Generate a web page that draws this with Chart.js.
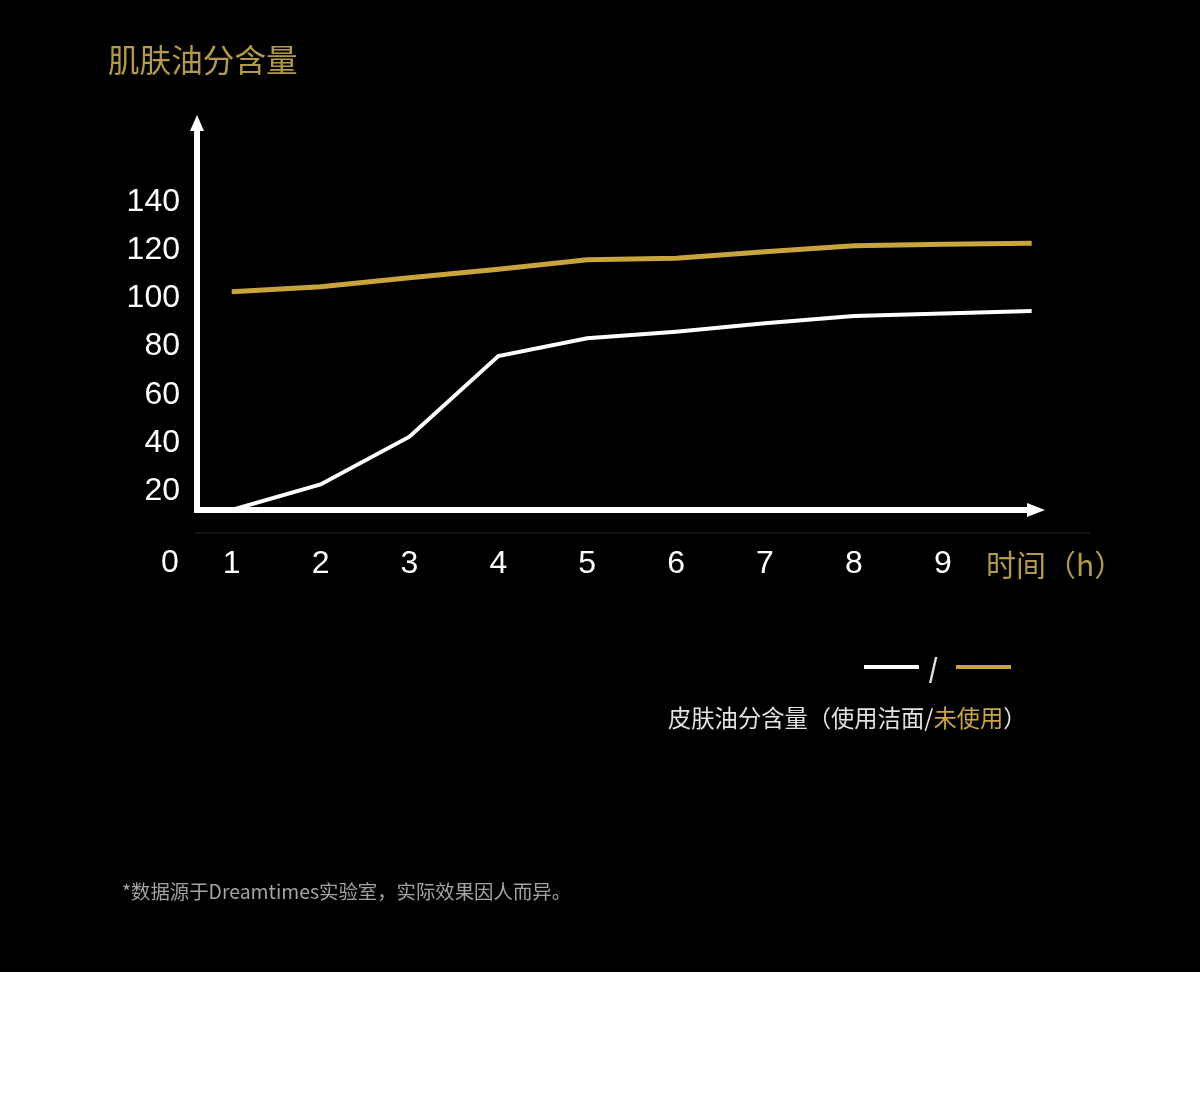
<!DOCTYPE html>
<html lang="zh">
<head>
    <meta charset="UTF-8">
    <title>肌肤油分含量</title>
    <script src="https://cdn.jsdelivr.net/npm/chart.js"></script>
    <style>
        body { margin: 0; background: #fff; }
        .panel { position: relative; width: 1200px; height: 972px; background: #000; overflow: hidden; }
        #chart { position: absolute; left: 0; top: 0; }
        .title { position: absolute; left: 108px; top: 35px; color: #b39a4a; font: 31.6px "Noto Sans CJK SC"; }
        .legend { position: absolute; left: 668px; top: 650px; font: 23.3px "Noto Sans CJK SC"; color: #e2e2e2; }
        .legend .marks { position: absolute; left: 196px; top: 0; width: 160px; height: 40px; }
        .legend .marks span { position: absolute; top: 15px; height: 4px; width: 55px; }
        .legend .slash { position: absolute; left: 261px; top: 4px; font: 300 30px "Liberation Sans"; color: #e2e2e2; transform: scaleY(1.15); }
        .legend .text { position: absolute; left: 0; top: 50px; white-space: nowrap; }
        .note { position: absolute; left: 122px; top: 876px; font: 19.4px "Noto Sans CJK SC"; color: #a3a3a3; }
    </style>
</head>
<body>
<div class="panel">
    <canvas id="chart" width="1200" height="972"></canvas>
    <div class="title">肌肤油分含量</div>
    <div class="legend">
        <div class="marks">
            <span id="mark0" style="left:0"></span>
            <span id="mark1" style="left:92px"></span>
        </div>
        <div class="slash">/</div>
        <div class="text">皮肤油分含量（使用洁面/<span style="color:#c9a640">未使用</span>）</div>
    </div>
    <div class="note">*数据源于Dreamtimes实验室，实际效果因人而异。</div>
</div>

<script>
// hours after cleansing
const hours = [1, 2, 3, 4, 5, 6, 7, 8, 9, 10];
// skin oil content, with cleanser
const withCleanser = [10.9, 21.5, 41.3, 74.8, 82.2, 84.9, 88.4, 91.4, 92.5, 93.5];
// skin oil content, without cleanser
const withoutCleanser = [101.5, 103.6, 107.3, 110.8, 114.8, 115.4, 118.1, 120.6, 121.2, 121.6];
const xTicks = [1, 2, 3, 4, 5, 6, 7, 8, 9];
const yTicks = [20, 40, 60, 80, 100, 120, 140];

const WHITE = '#ffffff';
const GOLD = '#c9a43c';
const tickFont = { family: 'Liberation Sans', size: 32 };

// axes with arrowheads, the "0" origin label and the x axis title
const axisArrows = {
    id: 'axisArrows',
    afterDraw(chart) {
        const { ctx, chartArea: a } = chart;
        ctx.save();
        ctx.fillStyle = WHITE;
        // y axis
        ctx.fillRect(a.left - 3, a.top + 12, 6, a.bottom - a.top - 9);
        ctx.beginPath();
        ctx.moveTo(a.left, a.top);
        ctx.lineTo(a.left - 7, a.top + 16);
        ctx.lineTo(a.left + 7, a.top + 16);
        ctx.closePath();
        ctx.fill();
        // x axis
        ctx.fillRect(a.left - 3, a.bottom - 3, a.right - a.left - 12, 6);
        ctx.beginPath();
        ctx.moveTo(a.right, a.bottom);
        ctx.lineTo(a.right - 18, a.bottom - 7);
        ctx.lineTo(a.right - 18, a.bottom + 7);
        ctx.closePath();
        ctx.fill();
        // faint rule under the axis
        ctx.fillStyle = '#141414';
        ctx.fillRect(a.left - 2, a.bottom + 22, 895, 2);

        ctx.fillStyle = WHITE;
        ctx.font = '32px "Liberation Sans"';
        ctx.textAlign = 'center';
        ctx.textBaseline = 'middle';
        ctx.fillText('0', 170, 563);
        ctx.fillStyle = '#b39a4a';
        ctx.textAlign = 'left';
        ctx.font = '30px "Noto Sans CJK SC"';
        ctx.fillText('时间（h）', 986, 565);
        ctx.restore();
    }
};

const chart = new Chart(document.getElementById('chart'), {
    type: 'line',
    data: {
        labels: hours,
        datasets: [{
            label: '使用洁面',
            data: withCleanser,
            borderColor: WHITE,
            borderWidth: 4,
            pointRadius: 0,
            tension: 0
        }, {
            label: '未使用',
            data: withoutCleanser,
            borderColor: GOLD,
            borderWidth: 5,
            pointRadius: 0,
            tension: 0
        }]
    },
    options: {
        responsive: false,
        animation: false,
        layout: { padding: { left: 0, top: 115, right: 155, bottom: 0 } },
        plugins: { legend: { display: false }, tooltip: { enabled: false } },
        scales: {
            x: {
                type: 'linear',
                min: 0.61,
                max: 10.15,
                grid: { display: false, drawTicks: false },
                border: { display: false },
                afterBuildTicks: s => { s.ticks = xTicks.map(v => ({ value: v })); },
                afterFit: s => { s.height = 972 - 510; },
                ticks: { color: WHITE, font: tickFont, padding: 35, maxRotation: 0 }
            },
            y: {
                min: 10.87,
                max: 174.9,
                grid: { display: false, drawTicks: false },
                border: { display: false },
                afterBuildTicks: s => { s.ticks = yTicks.map(v => ({ value: v })); },
                afterFit: s => { s.width = 197; },
                ticks: { color: WHITE, font: tickFont, padding: 17, labelOffset: 3 }
            }
        }
    },
    plugins: [axisArrows]
});

document.getElementById('mark0').style.background = chart.data.datasets[0].borderColor;
document.getElementById('mark1').style.background = chart.data.datasets[1].borderColor;
</script>
</body>
</html>
